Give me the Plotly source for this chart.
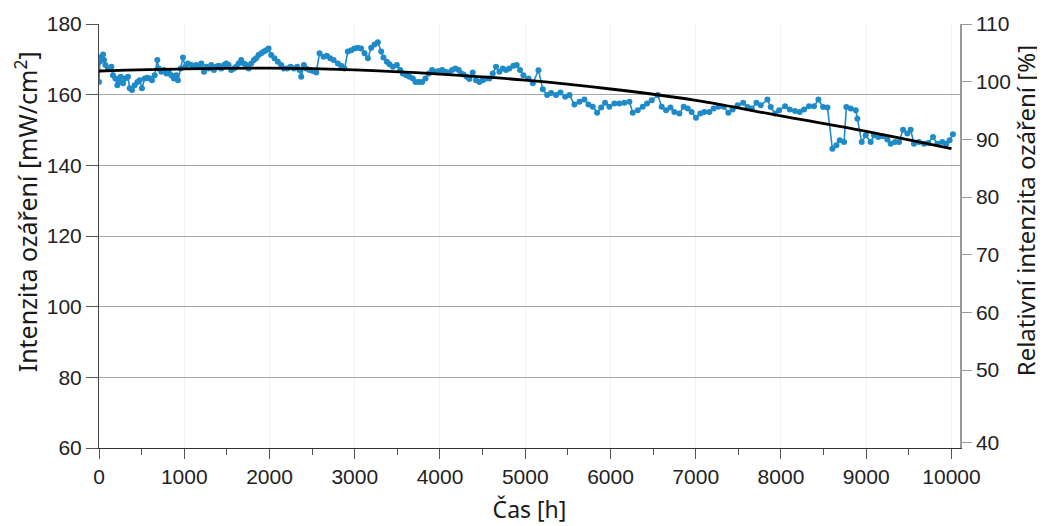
import plotly.graph_objects as go

# ---- data ----
time_h = [0, 8, 28, 48, 59, 75, 106, 145, 164, 192, 215, 231, 254, 282, 309, 340, 360, 387, 418, 450,
          477, 504, 536, 567, 594, 622, 653, 684, 700, 731, 762, 790, 817, 848, 879, 907, 926, 958, 985, 1012,
          1044, 1083, 1114, 1141, 1169, 1200, 1231, 1258, 1286, 1317, 1348, 1375, 1403, 1434, 1465, 1493, 1520,
          1551, 1583, 1610, 1637, 1668, 1700, 1727, 1755, 1786, 1817, 1844, 1872, 1903, 1934, 1962, 1989, 2020,
          2059, 2098, 2137, 2169, 2208, 2247, 2286, 2325, 2352, 2372, 2403, 2430, 2469, 2508,
          2548, 2587, 2634, 2673, 2712, 2752, 2802, 2841, 2880, 2919, 2958, 2997, 3036, 3075, 3115, 3154, 3193,
          3232, 3271, 3310, 3337, 3376, 3408, 3447, 3494, 3533, 3564, 3603, 3642, 3681, 3713, 3752, 3791, 3830,
          3869, 3908, 3947, 3986, 4025, 4064, 4103, 4142, 4181, 4220, 4248, 4275, 4314, 4345, 4384, 4423, 4462,
          4502, 4541, 4580, 4619, 4658, 4697, 4736, 4775, 4814, 4861, 4900, 4939, 4978,
          5038, 5089, 5155, 5206, 5257, 5304, 5362, 5413, 5468, 5519, 5577, 5636, 5694, 5741, 5792, 5843, 5890,
          5936, 5987, 6046, 6105, 6163, 6222, 6261, 6320, 6378, 6429, 6484, 6554, 6601, 6652, 6703, 6749, 6808,
          6859, 6906, 6952, 7003, 7054, 7101, 7160, 7210, 7265, 7328, 7382, 7433, 7492,
          7556, 7607, 7657, 7712, 7763, 7841, 7880, 7931, 7978, 8048, 8103, 8165, 8220, 8271, 8329, 8388, 8439,
          8494, 8545, 8603, 8650, 8689, 8740, 8767, 8818, 8877, 8896, 8947, 8994, 9052, 9092, 9142, 9197, 9248,
          9287, 9338, 9385, 9432, 9482, 9521, 9560, 9619, 9678, 9728, 9783, 9834, 9892, 9939, 9978, 10017]

irradiance = [163.6, 169.3, 170.7, 171.4, 169.8, 168.4, 167.4, 167.9, 165.5, 164.6, 162.7, 163.6, 165.1, 163.2,
              164.6, 165.1, 161.8, 161.3, 162.7, 163.6, 164.1, 161.8, 164.6, 164.8, 164.6, 164.1, 165.5, 169.8,
              167.4, 166.5, 167.0, 166.0, 166.5, 165.5, 164.6, 165.5, 164.1, 167.4, 170.5, 167.9, 168.8, 168.4,
              167.9, 168.4, 167.9, 168.8, 166.5, 167.9, 167.4, 168.4, 167.0, 167.9, 168.2, 167.4, 168.4, 168.8,
              168.4, 167.0, 167.4, 167.9, 168.8, 169.8, 168.8, 168.4, 167.4, 168.8, 169.8, 170.3, 171.2, 171.7,
              172.2, 172.6, 173.1, 171.2, 170.3, 169.3, 168.4, 167.4, 167.4, 167.9, 167.4, 167.9, 167.0, 165.1,
              168.4, 167.4, 167.0, 166.7,
              166.3, 171.7, 170.7, 171.0, 170.3, 169.8, 168.8, 168.2, 167.4, 172.2, 172.6, 173.1, 173.3, 173.1,
              171.7, 170.3, 173.3, 174.2, 174.8, 172.2, 170.5, 169.3, 168.6, 167.9, 168.4, 167.0, 166.0, 165.5,
              165.1, 164.6, 163.6, 163.6, 163.6, 164.6, 166.0, 167.0, 166.5, 166.7, 167.0, 166.5, 166.3, 167.0,
              167.4, 167.0, 166.0, 165.7, 165.1, 164.4, 166.3, 164.1, 163.6, 164.1, 164.6, 164.6, 166.0, 167.9,
              166.5, 167.4, 167.0, 167.4, 168.2, 168.4, 167.0, 165.5,
              164.6, 163.2, 166.9, 161.5, 159.9, 160.5, 159.9, 160.6, 159.4, 159.9, 157.2, 158.0, 158.6, 157.2,
              156.6, 154.9, 156.4, 157.7, 156.6, 157.5, 157.5, 157.7, 158.0, 154.9, 155.6, 156.6, 157.5, 158.4,
              159.9, 156.6, 155.6, 156.4, 155.1, 154.7, 156.6, 156.1, 155.1, 153.5, 154.7, 155.1, 155.1, 156.1,
              156.6, 156.6, 154.9, 155.8, 157.0,
              157.7, 156.5, 156.1, 157.7, 157.0, 158.6, 156.5, 154.7, 155.6, 156.7, 155.8, 155.4, 155.1, 155.8,
              156.7, 156.7, 158.6, 156.5, 156.4, 144.7, 145.7, 147.1, 146.6, 156.5, 156.1, 155.6, 153.2, 146.6,
              148.5, 146.6, 148.5, 148.0, 148.2, 147.3, 146.1, 146.6, 146.6, 150.1, 149.0, 150.1, 146.1, 146.6,
              146.1, 146.3, 148.0, 146.1, 146.6, 146.1, 147.1, 148.8]

fit_time_h = [0, 1000, 2000, 3000, 4000, 5000, 6000, 7000, 8000, 9000, 10000]
fit_irradiance = [166.7, 167.3, 167.5, 167.0, 165.8, 164.1, 161.6, 158.4, 154.0, 149.6, 144.7]

x_ticks = [0, 1000, 2000, 3000, 4000, 5000, 6000, 7000, 8000, 9000, 10000]
x_tick_text = ["0", "1000", "2000", "3000", "4000", "5000", "6000", "7000", "8000", "9000", "10000"]
x_minor = [500, 1500, 2500, 3500, 4500, 5500, 6500, 7500, 8500, 9500]
left_ticks = [60, 80, 100, 120, 140, 160, 180]
right_tick_pos = [37.5, 50, 60, 70, 80, 90, 100, 110]
right_tick_text = ["40", "50", "60", "70", "80", "90", "100", "110"]

x_title = "Čas [h]"
y_title = "Intenzita ozáření [mW/cm<sup>2</sup>]"
y2_title = "Relativní intenzita ozáření [%]"

BLUE = "#1f8ac8"
TICKFONT = dict(family="Liberation Sans, Arial, sans-serif", size=21, color="#222222")
TITLE_FAMILY = "Noto Sans, sans-serif"
TITLE_COLOR = "#1a1a1a"

# the page body has an 8 px default margin, so the figure is shifted by 8 px;
# margins are compensated so the plot area lands where the reference has it
PAGE_OFFSET = 8

fig = go.Figure()
fig.add_trace(go.Scatter(
    x=time_h, y=irradiance, mode="lines+markers",
    line=dict(color=BLUE, width=1.6),
    marker=dict(color=BLUE, size=6),
    hoverinfo="x+y"))
fig.add_trace(go.Scatter(
    x=fit_time_h, y=fit_irradiance, mode="lines",
    line=dict(color="black", width=2.8, shape="spline", smoothing=1.0)))
fig.add_trace(go.Scatter(x=[None], y=[None], yaxis="y2", hoverinfo="skip"))

fig.update_layout(
    width=1045, height=526,
    margin=dict(l=99 - PAGE_OFFSET, r=85 + PAGE_OFFSET, t=24 - PAGE_OFFSET, b=78 + PAGE_OFFSET),
    paper_bgcolor="white", plot_bgcolor="white",
    showlegend=False,
    xaxis=dict(
        automargin=False,
        range=[0, 10100], tickvals=x_ticks, ticktext=x_tick_text,
        ticks="outside", ticklen=10, tickcolor="#555555", tickwidth=1,
        showline=True, linecolor="#333333", linewidth=1,
        showgrid=True, gridcolor="#f1f1f1", zeroline=False,
        minor=dict(tickvals=x_minor, ticks="outside", ticklen=6, tickcolor="#555555", showgrid=False),
        tickfont=TICKFONT,
        title=dict(text=x_title, font=dict(family=TITLE_FAMILY, size=23, color=TITLE_COLOR), standoff=14),
    ),
    yaxis=dict(
        automargin=False,
        range=[60, 180], tickvals=left_ticks, ticks="outside", ticklen=12,
        tickcolor="#555555", showline=True, linecolor="#444444", linewidth=1,
        showgrid=True, gridcolor="#a8a8a8", gridwidth=1, zeroline=False,
        tickfont=TICKFONT,
    ),
    yaxis2=dict(
        automargin=False,
        overlaying="y", side="right", range=[36.5, 110],
        tickvals=right_tick_pos, ticktext=right_tick_text,
        ticks="outside", ticklen=10, tickcolor="#999999",
        showline=True, linecolor="#9a9a9a", linewidth=1.5,
        showgrid=False, zeroline=False,
        tickfont=TICKFONT,
    ),
    annotations=[
        dict(text=y_title, xref="paper", yref="paper", x=-0.0842, y=0.557,
             xanchor="center", yanchor="middle", textangle=-90, showarrow=False,
             font=dict(family=TITLE_FAMILY, size=25, color=TITLE_COLOR)),
        dict(text=y2_title, xref="paper", yref="paper", x=1.0770, y=0.559,
             xanchor="center", yanchor="middle", textangle=-90, showarrow=False,
             font=dict(family=TITLE_FAMILY, size=24, color=TITLE_COLOR)),
    ],
)

fig.write_html("out.html")
